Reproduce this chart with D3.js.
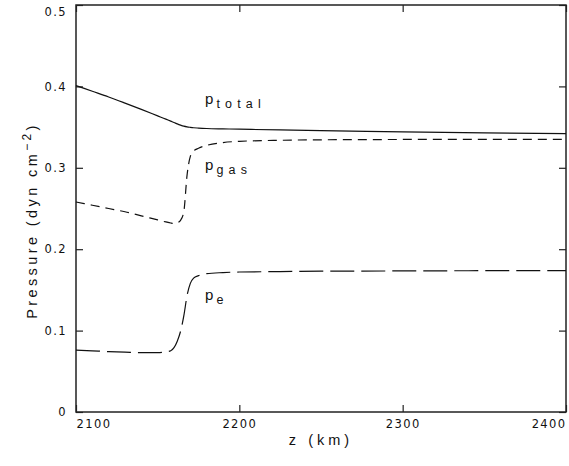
<!DOCTYPE html>
<html>
<head>
<meta charset="utf-8">
<title>Pressure vs z</title>
<script src="https://cdn.jsdelivr.net/npm/d3@7/dist/d3.min.js"></script>
<style>
    body { margin: 0; background: #fff; }
    text { font-family: "Liberation Sans", Arial, sans-serif; fill: #111; }
</style>
</head>
<body>
<div id="chart"></div>
<script>
    // datos
    const zKm = [2100, 2110, 2120, 2130, 2140, 2150, 2155, 2158, 2160, 2162, 2164, 2166,
                 2168, 2170, 2172, 2175, 2180, 2190, 2200, 2225, 2250, 2300, 2350, 2400]
    const pTotal = [0.401, 0.394, 0.387, 0.3795, 0.3718, 0.3638, 0.3598, 0.3573, 0.3557, 0.354, 0.3525, 0.3512,
                    0.3503, 0.3497, 0.3492, 0.3488, 0.3483, 0.3478, 0.3474, 0.3465, 0.3456, 0.3442, 0.343, 0.342]
    const pGas = [0.258, 0.254, 0.250, 0.246, 0.241, 0.236, 0.2335, 0.2322, 0.2317, 0.2325, 0.2355, 0.246,
                  0.291, 0.314, 0.3205, 0.324, 0.3275, 0.331, 0.3325, 0.3338, 0.3344, 0.3348, 0.335, 0.335]
    const pE = [0.0761, 0.0752, 0.0742, 0.0735, 0.0729, 0.0730, 0.0738, 0.0752, 0.079, 0.087, 0.099, 0.118,
                0.143, 0.158, 0.1645, 0.1675, 0.170, 0.1713, 0.172, 0.1725, 0.173, 0.1733, 0.1736, 0.1738]
    const xTicks = [2100, 2200, 2300, 2400]
    const yTicks = [0, 0.1, 0.2, 0.3, 0.4, 0.5]
    const yTickLabels = ["0", "0.1", "0.2", "0.3", "0.4", "0.5"]
    const curveLabels = [
        { p: "p", sub: "total", z: 2179, v: 0.378 },
        { p: "p", sub: "gas", z: 2179, v: 0.297 },
        { p: "p", sub: "e", z: 2179, v: 0.1374 }
    ]

    const width = 569, height = 466
    const margin = { top: 5, right: 3, bottom: 54, left: 76 }

    const svg = d3.select("#chart").append("svg")
        .attr("width", width)
        .attr("height", height)

    const x = d3.scaleLinear().domain([2100, 2400]).range([margin.left, width - margin.right])
    const y = d3.scaleLinear().domain([0, 0.5]).range([height - margin.bottom, margin.top])

    // ejes con marcas hacia adentro
    const gLeft = svg.append("g").attr("transform", `translate(${margin.left},0)`)
        .call(d3.axisLeft(y).tickValues(yTicks).tickSize(-7).tickPadding(9)
            .tickFormat((d, i) => yTickLabels[i]))
    const gBottom = svg.append("g").attr("transform", `translate(0,${height - margin.bottom})`)
        .call(d3.axisBottom(x).tickValues(xTicks).tickSize(-7).tickPadding(8).tickFormat(d3.format("d")))
    svg.append("g").attr("transform", `translate(${width - margin.right},0)`)
        .call(d3.axisRight(y).tickValues(yTicks).tickSize(-7).tickFormat(""))
    svg.append("g").attr("transform", `translate(0,${margin.top})`)
        .call(d3.axisTop(x).tickValues(xTicks).tickSize(-7).tickFormat(""))

    svg.selectAll(".domain").remove()
    svg.selectAll(".tick line").attr("stroke", "#222").attr("stroke-width", 1.2)
    svg.selectAll(".tick text")
        .style("font-family", "'DejaVu Sans', sans-serif")
        .style("font-size", "11.5px")
        .style("letter-spacing", "1.4px")
        .attr("fill", "#111")

    // la etiqueta 0.5 baja un poco para que no quede cortada
    gLeft.selectAll(".tick text").filter(d => d === 0.5).attr("dy", "0.95em")

    gBottom.selectAll(".tick text")
        .attr("text-anchor", (d, i) => i === 0 ? "start" : (i === xTicks.length - 1 ? "end" : "middle"))

    // marco
    svg.append("rect")
        .attr("x", margin.left)
        .attr("y", margin.top)
        .attr("width", width - margin.right - margin.left)
        .attr("height", height - margin.bottom - margin.top)
        .attr("fill", "none")
        .attr("stroke", "#222")
        .attr("stroke-width", 1.5)

    // curvas
    const line = d3.line()
        .x(d => x(d[0]))
        .y(d => y(d[1]))
        .curve(d3.curveMonotoneX)

    const series = [
        { vals: pTotal, dash: null },
        { vals: pGas, dash: "9,6" },
        { vals: pE, dash: "24,7" }
    ]
    series.forEach(s => {
        svg.append("path")
            .datum(zKm.map((z, i) => [z, s.vals[i]]))
            .attr("d", line)
            .attr("fill", "none")
            .attr("stroke", "#111")
            .attr("stroke-width", 1.2)
            .attr("stroke-dasharray", s.dash)
    })

    // etiquetas de curvas
    curveLabels.forEach(l => {
        const t = svg.append("text")
            .attr("x", x(l.z))
            .attr("y", y(l.v))
            .style("font-size", "15px")
        t.append("tspan").text(l.p)
        t.append("tspan")
            .attr("dx", 3)
            .attr("dy", 4)
            .style("font-size", "12.5px")
            .style("letter-spacing", "5.2px")
            .text(l.sub)
    })

    // titulos de ejes
    svg.append("text")
        .attr("x", (x(2100) + x(2400)) / 2)
        .attr("y", 445)
        .attr("text-anchor", "middle")
        .style("font-size", "14.5px")
        .style("letter-spacing", "4px")
        .text("z (km)")

    const yTitle = svg.append("text")
        .attr("transform", `translate(37,${(y(0) + y(0.5)) / 2 + 12}) rotate(-90)`)
        .attr("text-anchor", "middle")
        .style("font-size", "14.5px")
        .style("letter-spacing", "3.4px")
    yTitle.append("tspan").text("Pressure (dyn cm")
    yTitle.append("tspan").attr("dy", -6).style("font-size", "12px").text("−2")
    yTitle.append("tspan").attr("dy", 6).text(")")
</script>
</body>
</html>
